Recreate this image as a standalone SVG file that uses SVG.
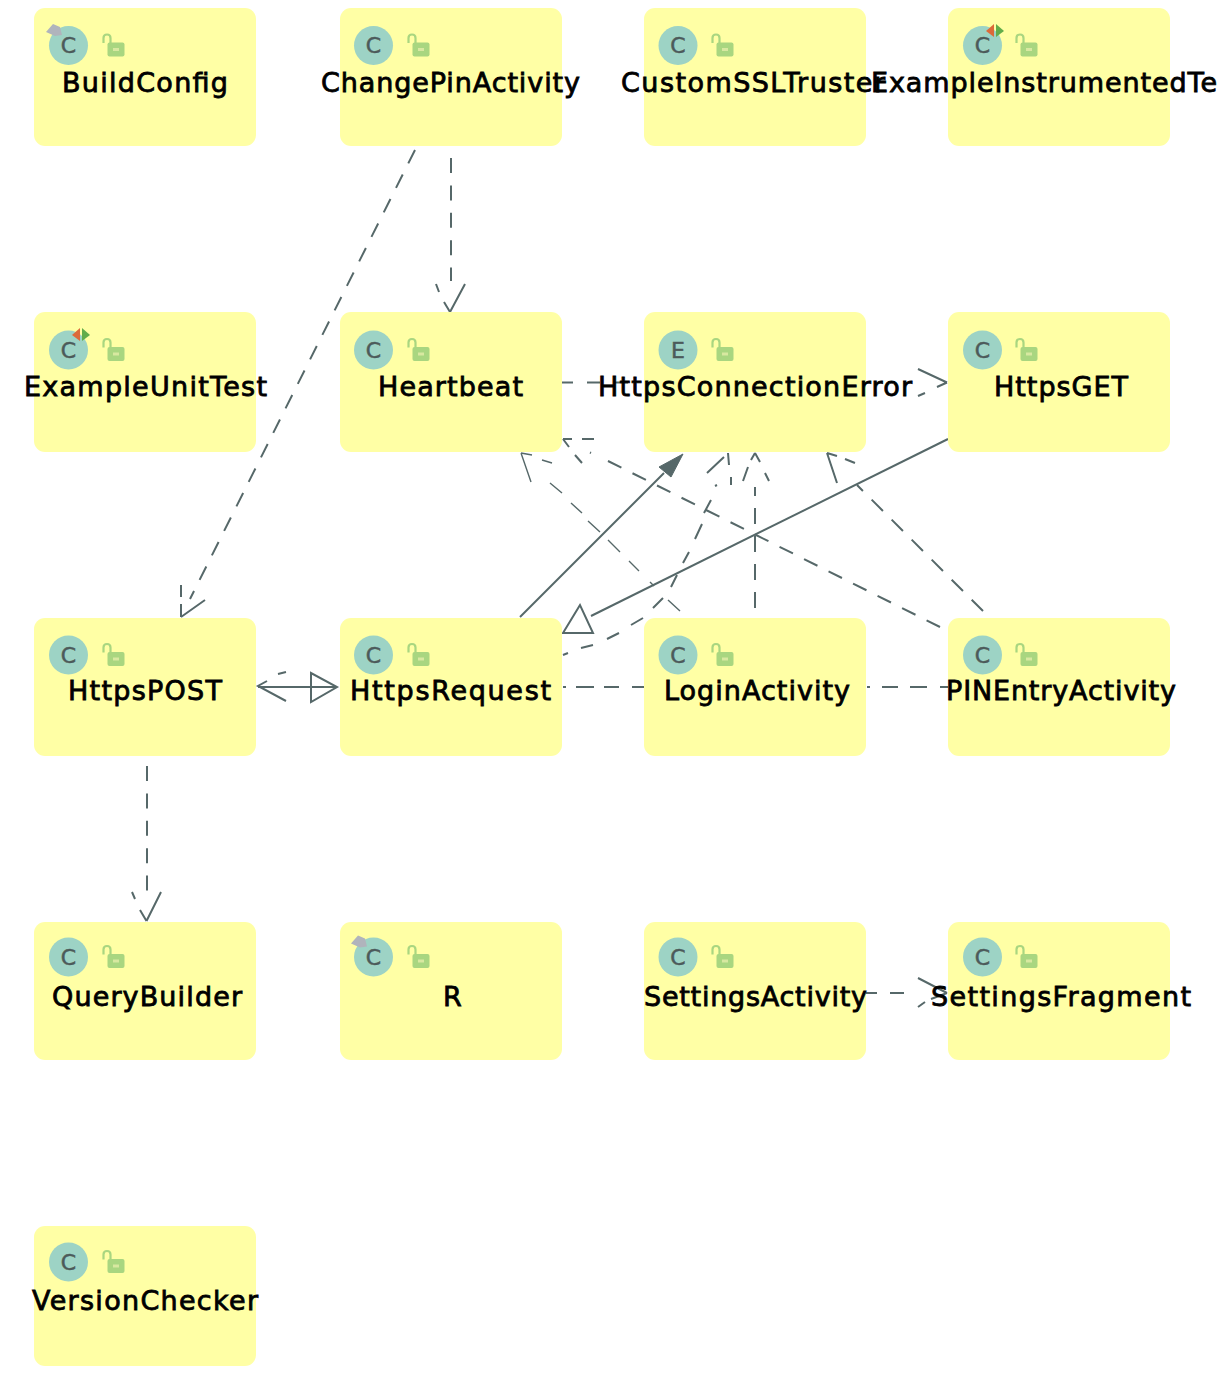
<svg xmlns="http://www.w3.org/2000/svg" xmlns:xlink="http://www.w3.org/1999/xlink" width="1218" height="1396" viewBox="0 0 1218 1396">
<style>
.box{fill:#ffffa5}
.circle{fill:#9dd3c5}
.glyph{font-family:"DejaVu Sans",sans-serif;font-size:22px;fill:#4c5a5a;stroke:#4c5a5a;stroke-width:.5;text-anchor:middle}
.label{font-family:"DejaVu Sans",sans-serif;font-size:27px;fill:#000;stroke:#000;stroke-width:.8}
.line{fill:none;stroke:#566869;stroke-width:2}
.thin{fill:none;stroke:#566869;stroke-width:1.4}
.dash{stroke-dasharray:15 12.400}
.fill{fill:#566869;stroke:#566869;stroke-width:1}
</style>
<defs>
<g id="lock">
<path d="M103.500 43V38Q103.500 34.500 107 34.500Q110.500 34.500 110.500 38V43" fill="none" stroke="#a9d680" stroke-width="2.200"/>
<rect x="107.500" y="42.500" width="17" height="14" rx="2" fill="#a9d680"/>
<rect x="113" y="48" width="6" height="3" fill="#d8e8a0"/>
</g>
<g id="badge-grey"><polygon points="46,32 53,24 60,27 62,35 55,36" fill="#b0b4bc"/></g>
<g id="badge-arrows">
<polygon points="38,23 46,16 46,29" fill="#dc6a3a"/>
<polygon points="48,16 56,23 48,29" fill="#62ad4a"/>
</g>
</defs>
<g id="connectors">
<!-- ChangePinActivity to HttpsPOST -->
<path class="line dash" d="M415 150L190 599"/>
<path class="line" d="M181 617L205 600M181 617V604M181 597V585"/>
<!-- ChangePinActivity to Heartbeat -->
<path class="line dash" d="M451 158V281"/>
<path class="line" d="M450 312L465 284M450 312L444 302M439 292L436 284"/>
<!-- HttpsPOST to QueryBuilder -->
<path class="line dash" d="M147 766V891"/>
<path class="line" d="M146.500 921L161 892M146.500 921L140 910M135 899L132 892"/>
<!-- Heartbeat to HttpsGET -->
<path class="line" d="M562 382.500H573M587 382.500H600M614 382.500H628M918 369L947 382.500M918 396L925 393M937 387L947 382.500"/>
<!-- SettingsActivity to SettingsFragment -->
<path class="line" d="M866 993H877M890 993H904M918 978L947 993M918 1007L925 1002M931 999L947 993"/>
<!-- HttpsRequest to LoginActivity to PINEntryActivity -->
<path class="line" d="M563 687H566M576 687H594M604 687H619M632 687H644M867 687H870M882 687H898M910 687H927M940 687H948"/>
<!-- LoginActivity to Heartbeat -->
<path class="thin" d="M550 483L562 493M571 503L582 513M588 521L600 532M608 540L620 552M629 561L639 571M650 582L654 586M668 600L680 611"/>
<path class="thin" d="M521 453L531 482M521 453L532 455M542 460L552 463"/>
<!-- PINEntryActivity to Heartbeat -->
<path class="line dash" d="M940 627L604 459"/>
<path class="line" d="M563 439H572M582 439H594M563 439L569 447M575 455L582 463M590 452.500L591 453"/>
<!-- PINEntryActivity to HttpsConnectionError -->
<path class="line" stroke-dasharray="16 12.300" d="M983 611L857 485"/>
<path class="line" d="M827 453L837 483M827 453L837 456M845 459L855 463"/>
<!-- LoginActivity to HttpsConnectionError -->
<path class="line" stroke-dasharray="16 12" d="M755 608V487"/>
<path class="line" d="M755 453L751 460M748 467L743 481M755 453L760 462M765 473L769 481"/>
<!-- HttpsRequest to HttpsConnectionError, dashed -->
<path class="line" d="M563 655L568 653M581 648L593 645M607 639L619 633M631 625L643 618M653 608L663 598M671 587L677 575M683 563L689 552M695 539L702 524M704 513L711 500M715 486L717 485"/>
<path class="line" d="M707 473L724 457M728 453L729 465M731 477V485"/>
<!-- HttpsRequest to HttpsConnectionError, solid -->
<path class="line" d="M520 617L664 473"/>
<polygon class="fill" points="683,454 659,467 671,477"/>
<!-- HttpsGET to HttpsRequest -->
<path class="line" d="M948 439L591 616"/>
<polygon points="580,605 563,633 593,633" fill="none" stroke="#566869" stroke-width="2"/>
<!-- HttpsPOST and HttpsRequest -->
<path class="line" d="M258 687H337M267 681L258 686L286 701M278 674L286 672"/>
<polygon points="311,673 311,702 337,687" fill="none" stroke="#566869" stroke-width="2"/>
</g>
<g id="BuildConfig"><rect class="box" x="34" y="8" width="222" height="138" rx="11"/><circle class="circle" cx="68.500" cy="45.500" r="19.500"/><text class="glyph" x="68.500" y="53">C</text><use xlink:href="#lock" href="#lock"/><use href="#badge-grey" xlink:href="#badge-grey"/><text class="label" x="62" y="92" textLength="166">BuildConfig</text></g>
<g id="ChangePinActivity"><rect class="box" x="340" y="8" width="222" height="138" rx="11"/><circle class="circle" cx="373.500" cy="45.500" r="19.500"/><text class="glyph" x="373.500" y="53">C</text><use href="#lock" xlink:href="#lock" x="305"/><text class="label" x="321" y="92" textLength="259">ChangePinActivity</text></g>
<g id="CustomSSLTruster"><rect class="box" x="644" y="8" width="222" height="138" rx="11"/><circle class="circle" cx="678" cy="45.500" r="19.500"/><text class="glyph" x="678" y="53">C</text><use href="#lock" xlink:href="#lock" x="609"/><text class="label" x="621" y="92" textLength="264">CustomSSLTruster</text></g>
<g id="ExampleInstrumentedTest"><rect class="box" x="948" y="8" width="222" height="138" rx="11"/><circle class="circle" cx="982.500" cy="45.500" r="19.500"/><text class="glyph" x="982.500" y="53">C</text><use href="#lock" xlink:href="#lock" x="913"/><use href="#badge-arrows" xlink:href="#badge-arrows" x="948" y="8"/><text class="label" x="871" y="92" textLength="346">ExampleInstrumentedTe</text></g>
<g id="ExampleUnitTest"><rect class="box" x="34" y="312" width="222" height="140" rx="11"/><circle class="circle" cx="68.500" cy="350" r="19.500"/><text class="glyph" x="68.500" y="358">C</text><use href="#lock" xlink:href="#lock" y="304.500"/><use href="#badge-arrows" xlink:href="#badge-arrows" x="34" y="312"/><text class="label" x="24" y="396" textLength="243">ExampleUnitTest</text></g>
<g id="Heartbeat"><rect class="box" x="340" y="312" width="222" height="140" rx="11"/><circle class="circle" cx="373.500" cy="350" r="19.500"/><text class="glyph" x="373.500" y="358">C</text><use href="#lock" xlink:href="#lock" x="305" y="304.500"/><text class="label" x="378" y="396" textLength="145">Heartbeat</text></g>
<g id="HttpsConnectionError"><rect class="box" x="644" y="312" width="222" height="140" rx="11"/><circle class="circle" cx="678" cy="350" r="19.500"/><text class="glyph" x="678" y="358">E</text><use href="#lock" xlink:href="#lock" x="609" y="304.500"/><text class="label" x="598" y="396" textLength="314">HttpsConnectionError</text></g>
<g id="HttpsGET"><rect class="box" x="948" y="312" width="222" height="140" rx="11"/><circle class="circle" cx="982.500" cy="350" r="19.500"/><text class="glyph" x="982.500" y="358">C</text><use href="#lock" xlink:href="#lock" x="913" y="304.500"/><text class="label" x="994" y="396" textLength="134">HttpsGET</text></g>
<g id="HttpsPOST"><rect class="box" x="34" y="618" width="222" height="138" rx="11"/><circle class="circle" cx="68.500" cy="655" r="19.500"/><text class="glyph" x="68.500" y="663">C</text><use href="#lock" xlink:href="#lock" y="609.500"/><text class="label" x="68" y="700" textLength="154">HttpsPOST</text></g>
<g id="HttpsRequest"><rect class="box" x="340" y="618" width="222" height="138" rx="11"/><circle class="circle" cx="373.500" cy="655" r="19.500"/><text class="glyph" x="373.500" y="663">C</text><use href="#lock" xlink:href="#lock" x="305" y="609.500"/><text class="label" x="350" y="700" textLength="201">HttpsRequest</text></g>
<g id="LoginActivity"><rect class="box" x="644" y="618" width="222" height="138" rx="11"/><circle class="circle" cx="678" cy="655" r="19.500"/><text class="glyph" x="678" y="663">C</text><use href="#lock" xlink:href="#lock" x="609" y="609.500"/><text class="label" x="664" y="700" textLength="186">LoginActivity</text></g>
<g id="PINEntryActivity"><rect class="box" x="948" y="618" width="222" height="138" rx="11"/><circle class="circle" cx="982.500" cy="655" r="19.500"/><text class="glyph" x="982.500" y="663">C</text><use href="#lock" xlink:href="#lock" x="913" y="609.500"/><text class="label" x="946" y="700" textLength="230">PINEntryActivity</text></g>
<g id="QueryBuilder"><rect class="box" x="34" y="922" width="222" height="138" rx="11"/><circle class="circle" cx="68.500" cy="957" r="19.500"/><text class="glyph" x="68.500" y="965">C</text><use href="#lock" xlink:href="#lock" y="911.500"/><text class="label" x="52" y="1006" textLength="190">QueryBuilder</text></g>
<g id="R"><rect class="box" x="340" y="922" width="222" height="138" rx="11"/><circle class="circle" cx="373.500" cy="957" r="19.500"/><text class="glyph" x="373.500" y="965">C</text><use href="#lock" xlink:href="#lock" x="305" y="911.500"/><use href="#badge-grey" xlink:href="#badge-grey" x="305" y="911.500"/><text class="label" x="443" y="1006" textLength="18">R</text></g>
<g id="SettingsActivity"><rect class="box" x="644" y="922" width="222" height="138" rx="11"/><circle class="circle" cx="678" cy="957" r="19.500"/><text class="glyph" x="678" y="965">C</text><use href="#lock" xlink:href="#lock" x="609" y="911.500"/><text class="label" x="644" y="1006" textLength="223">SettingsActivity</text></g>
<g id="SettingsFragment"><rect class="box" x="948" y="922" width="222" height="138" rx="11"/><circle class="circle" cx="982.500" cy="957" r="19.500"/><text class="glyph" x="982.500" y="965">C</text><use href="#lock" xlink:href="#lock" x="913" y="911.500"/><text class="label" x="931" y="1006" textLength="260">SettingsFragment</text></g>
<g id="VersionChecker"><rect class="box" x="34" y="1226" width="222" height="140" rx="11"/><circle class="circle" cx="68.500" cy="1262" r="19.500"/><text class="glyph" x="68.500" y="1270">C</text><use href="#lock" xlink:href="#lock" y="1216.500"/><text class="label" x="32" y="1310" textLength="226">VersionChecker</text></g>
</svg>
